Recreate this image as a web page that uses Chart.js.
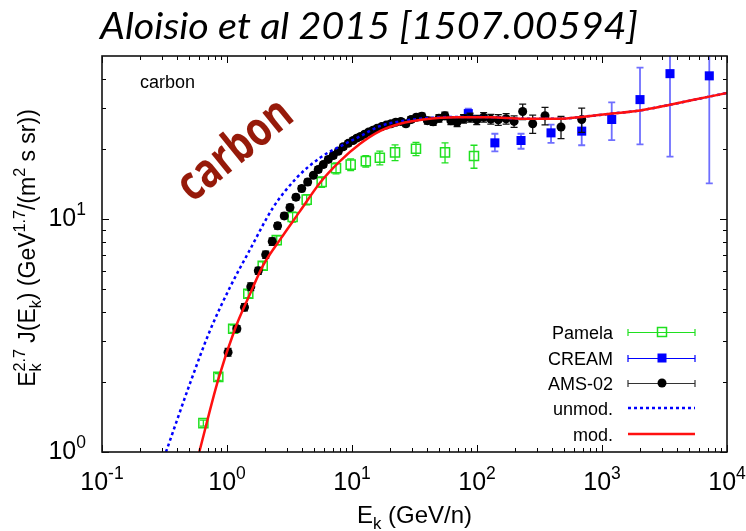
<!DOCTYPE html>
<html>
<head>
<meta charset="utf-8">
<script src="https://cdn.jsdelivr.net/npm/chart.js@4.4.1/dist/chart.umd.min.js"></script>
<style>
  body { margin: 0; background: #fff; }
  canvas { display: block; }
</style>
</head>
<body>
<canvas id="chart" width="746" height="531"></canvas>
<script>
// values (E in GeV/n, J scaled by E^2.7)
var pamelaE   = [0.647, 0.852, 1.12, 1.48, 1.93, 2.50, 3.35, 4.34, 5.72, 7.45, 9.76, 12.9, 16.7, 22.1, 32.5, 55.5, 94.6];
var pamelaJ   = [1.33, 2.10, 3.38, 4.77, 6.30, 8.11, 10.2, 12.1, 14.4, 16.5, 17.1, 17.7, 18.3, 19.3, 20.0, 19.3, 18.6];
var pamelaErr = [0.04, 0.07, 0.12, 0.18, 0.25, 0.35, 0.5, 0.6, 0.75, 0.9, 1.0, 1.0, 1.25, 1.5, 1.3, 1.9, 2.1];

var creamE  = [85.2, 139, 225, 391, 688, 1196, 2014, 3499, 7217];
var creamJ  = [28.3, 21.2, 21.7, 23.4, 23.8, 26.7, 32.5, 42.0, 41.1];
var creamLo = [26.9, 19.5, 20.0, 21.2, 20.7, 21.8, 20.9, 18.5, 14.2];
var creamHi = [29.7, 23.2, 23.2, 25.4, 27.1, 31.6, 44.6, 62, 75];

var amsE = [1.02, 1.20, 1.38, 1.55, 1.78, 2.04, 2.30, 2.54, 2.87, 3.19, 3.56, 3.96, 4.42, 4.91, 5.37,
            5.89, 6.46, 7.08, 7.77, 8.51, 9.33, 10.2, 10.9, 11.7, 12.6, 13.6, 14.7, 15.9, 17.3, 18.8,
            20.5, 22.4, 24.6, 27.0, 29.7, 32.7, 36.2, 40.1, 44.6, 49.6, 55.3, 61.8, 69.3, 78.0, 88.0,
            99.5, 113, 129, 148, 171, 198, 232, 279, 350, 470, 688];
var amsJ = [2.68, 3.38, 4.18, 5.12, 5.99, 7.02, 8.0, 9.34, 10.3, 11.2, 12.4, 13.5, 14.4, 15.4, 16.3,
            17.1, 18.0, 18.7, 19.5, 20.4, 21.1, 21.7, 22.2, 22.6, 23.1, 23.6, 24.0, 24.5, 24.9, 25.3,
            25.6, 26.0, 26.2, 25.6, 26.7, 27.3, 27.6, 26.4, 26.1, 27.0, 27.7, 26.4, 26.0, 26.9, 27.2,
            26.6, 27.3, 26.8, 26.6, 26.9, 26.2, 28.9, 25.6, 27.7, 24.8, 26.7];
var amsErr = [0.1, 0.1, 0.15, 0.2, 0.2, 0.25, 0.3, 0.3, 0.3, 0.35, 0.35, 0.4, 0.4, 0.4, 0.45,
              0.45, 0.45, 0.5, 0.5, 0.5, 0.5, 0.5, 0.5, 0.5, 0.55, 0.55, 0.55, 0.6, 0.6, 0.6,
              0.7, 0.7, 0.7, 0.7, 0.75, 0.75, 0.8, 0.9, 0.9, 1.0, 1.0, 1.0, 1.1, 1.1, 1.2,
              1.2, 1.3, 1.3, 1.4, 1.4, 1.5, 2.2, 2.3, 2.4, 2.7, 3.2];

var unmodE = [0.325, 0.506, 0.731, 1.057, 1.51, 2.34, 3.61, 5.55, 8.5, 11.6, 16.7, 24.2, 35, 70, 130, 235, 461, 688, 1196, 2014, 3499, 6880, 10000];
var unmodJ = [1.00, 1.97, 3.32, 5.09, 7.30, 11.2, 15.0, 18.3, 20.8, 22.6, 25.0, 26.2, 26.9, 27.4, 27.3, 26.9, 26.9, 27.4, 28.3, 29.2, 30.9, 33.3, 34.7];

var modE = [0.60, 0.852, 1.16, 1.53, 1.94, 2.70, 3.84, 5.55, 8.02, 11.6, 16.7, 24.2, 37.2, 68.8, 127, 235, 461, 688, 1196, 2014, 3499, 6880, 10000];
var modJ = [1.00, 2.05, 3.38, 4.77, 6.30, 8.25, 10.8, 14.3, 17.7, 21.0, 23.8, 25.6, 26.7, 27.3, 27.3, 26.9, 26.9, 27.4, 28.3, 29.2, 30.9, 33.3, 34.7];

var xTicks = [0.1, 1, 10, 100, 1000, 10000];
var xTickExp = ['-1', '0', '1', '2', '3', '4'];
var yTicks = [1, 10];
var yTickExp = ['0', '1'];
var legendLabels = ['Pamela', 'CREAM', 'AMS-02', 'unmod.', 'mod.'];

var GREEN = '#1fe01f';
var BLUE = '#0000ff';
var RED = '#ff1010';
var FONT = '"Liberation Sans", Arial, sans-serif';

function pts(xs, ys) {
    return xs.map(function (x, i) { return { x: x, y: ys[i] }; });
}

// draw text with sub/superscripts; parts like {t:'E'}, {sub:'k'}, {sup:'2.7'}
function richWidth(ctx, parts, size) {
    var w = 0;
    parts.forEach(function (p) {
        if (p.t) { ctx.font = size + 'px ' + FONT; w += ctx.measureText(p.t).width; }
        else {
            ctx.font = (size * 0.7) + 'px ' + FONT;
            var a = p.sub ? ctx.measureText(p.sub).width : 0;
            var b = p.sup ? ctx.measureText(p.sup).width : 0;
            w += Math.max(a, b);
        }
    });
    return w;
}
function drawRich(ctx, parts, x, y, size) {
    parts.forEach(function (p) {
        if (p.t) {
            ctx.font = size + 'px ' + FONT;
            ctx.fillText(p.t, x, y);
            x += ctx.measureText(p.t).width;
        } else {
            ctx.font = (size * 0.7) + 'px ' + FONT;
            var a = 0, b = 0;
            if (p.sub) { ctx.fillText(p.sub, x, y + size * 0.25); a = ctx.measureText(p.sub).width; }
            if (p.sup) { ctx.fillText(p.sup, x, y - size * 0.45); b = ctx.measureText(p.sup).width; }
            x += Math.max(a, b);
        }
    });
}

// error bars under each dataset's markers
var errorBars = {
    id: 'errorBars',
    beforeDatasetDraw: function (chart, args) {
        var ds = chart.data.datasets[args.index];
        if (!ds.errLo) return;
        var ctx = chart.ctx, sx = chart.scales.x, sy = chart.scales.y, a = chart.chartArea;
        ctx.save();
        ctx.beginPath();
        ctx.rect(a.left, a.top, a.right - a.left, a.bottom - a.top);
        ctx.clip();
        ctx.strokeStyle = ds.errColor;
        ctx.lineWidth = ds.errWidth || 1.3;
        ds.data.forEach(function (p, i) {
            var px = sx.getPixelForValue(p.x);
            var y1 = sy.getPixelForValue(ds.errLo[i]);
            var y2 = sy.getPixelForValue(ds.errHi[i]);
            ctx.beginPath();
            ctx.moveTo(px, y1); ctx.lineTo(px, y2);
            ctx.moveTo(px - ds.cap, y1); ctx.lineTo(px + ds.cap, y1);
            ctx.moveTo(px - ds.cap, y2); ctx.lineTo(px + ds.cap, y2);
            ctx.stroke();
        });
        ctx.restore();
    }
};

// frame, gnuplot style inward ticks, labels, legend
var decor = {
    id: 'decor',
    afterDraw: function (chart) {
        var ctx = chart.ctx, sx = chart.scales.x, sy = chart.scales.y, a = chart.chartArea;
        ctx.save();
        ctx.strokeStyle = '#000';
        ctx.fillStyle = '#000';

        // ticks
        ctx.lineWidth = 1;
        ctx.beginPath();
        xTicks.forEach(function (v, k) {
            for (var m = 1; m <= 9; m++) {
                var val = v * m;
                if (val > sx.max * 1.0001 || (m > 1 && k === xTicks.length - 1)) continue;
                var px = Math.round(sx.getPixelForValue(val)) + 0.5;
                var len = m === 1 ? 7 : 4;
                ctx.moveTo(px, a.bottom); ctx.lineTo(px, a.bottom - len);
                ctx.moveTo(px, a.top); ctx.lineTo(px, a.top + len);
            }
        });
        yTicks.forEach(function (v) {
            for (var m = 1; m <= 9; m++) {
                var val = v * m;
                if (val >= sy.max) continue;
                var py = Math.round(sy.getPixelForValue(val)) + 0.5;
                var len = m === 1 ? 7 : 4;
                ctx.moveTo(a.left, py); ctx.lineTo(a.left + len, py);
                ctx.moveTo(a.right, py); ctx.lineTo(a.right - len, py);
            }
        });
        ctx.stroke();

        // frame
        ctx.lineWidth = 1.6;
        ctx.strokeStyle = '#111';
        ctx.strokeRect(a.left, a.top, a.right - a.left, a.bottom - a.top);

        // tick labels
        xTicks.forEach(function (v, k) {
            var parts = [{ t: '10' }, { sup: xTickExp[k] }];
            var w = richWidth(ctx, parts, 25);
            drawRich(ctx, parts, sx.getPixelForValue(v) - w / 2, a.bottom + 38, 25);
        });
        yTicks.forEach(function (v, k) {
            var parts = [{ t: '10' }, { sup: yTickExp[k] }];
            var w = richWidth(ctx, parts, 25);
            drawRich(ctx, parts, 86 - w, sy.getPixelForValue(v) + 7, 25);
        });

        // axis titles
        var xt = [{ t: 'E' }, { sub: 'k' }, { t: ' (GeV/n)' }];
        var wx = richWidth(ctx, xt, 24);
        drawRich(ctx, xt, (a.left + a.right) / 2 - wx / 2, 523, 24);

        var yt = [{ t: 'E' }, { sub: 'k', sup: '2.7' }, { t: ' J(E' }, { sub: 'k' }, { t: ') (GeV' },
                  { sup: '1.7' }, { t: '/(m' }, { sup: '2' }, { t: ' s sr))' }];
        var wy = richWidth(ctx, yt, 23);
        ctx.save();
        ctx.translate(35, 248);
        ctx.rotate(-Math.PI / 2);
        drawRich(ctx, yt, -wy / 2, 0, 23);
        ctx.restore();

        // title
        ctx.save();
        ctx.font = 'italic 37px Lato, "Open Sans", sans-serif';
        var tw = ctx.measureText('Aloisio et al 2015 [1507.00594]').width;
        ctx.translate(100, 39);
        ctx.scale(538 / tw, 1);
        ctx.fillText('Aloisio et al 2015 [1507.00594]', 0, 0);
        ctx.restore();

        // small label
        ctx.font = '18px ' + FONT;
        ctx.fillText('carbon', 140, 88);

        // big rotated label
        ctx.save();
        ctx.fillStyle = '#961a0a';
        ctx.translate(236, 151);
        ctx.rotate(-39 * Math.PI / 180);
        ctx.scale(0.8, 1);
        ctx.font = 'bold 48px "Open Sans", sans-serif';
        ctx.textAlign = 'center';
        ctx.fillText('carbon', 0, 13);
        ctx.restore();

        // legend
        var rows = [332, 358, 383, 408, 434];
        var x0 = 628, x1 = 695, xm = 662;
        ctx.font = '18px ' + FONT;
        ctx.textAlign = 'right';
        ctx.fillStyle = '#000';
        legendLabels.forEach(function (lab, i) {
            ctx.fillText(lab, 613, rows[i] + 6.5);
        });
        var errCols = [GREEN, BLUE, '#333'];
        for (var i = 0; i < 3; i++) {
            var ry = rows[i] + 0.5;
            ctx.strokeStyle = errCols[i];
            ctx.lineWidth = 1.2;
            ctx.beginPath();
            ctx.moveTo(x0, ry); ctx.lineTo(x1, ry);
            ctx.moveTo(x0, ry - 3.5); ctx.lineTo(x0, ry + 3.5);
            ctx.moveTo(x1, ry - 3.5); ctx.lineTo(x1, ry + 3.5);
            ctx.stroke();
        }
        ctx.strokeStyle = GREEN;
        ctx.lineWidth = 1.5;
        ctx.strokeRect(xm - 4.5, rows[0] - 4.5, 9, 9);
        ctx.fillStyle = BLUE;
        ctx.fillRect(xm - 4.5, rows[1] - 4.5, 9, 9);
        ctx.fillStyle = '#000';
        ctx.beginPath();
        ctx.arc(xm, rows[2], 4.5, 0, Math.PI * 2);
        ctx.fill();
        ctx.lineWidth = 2.5;
        ctx.strokeStyle = BLUE;
        ctx.setLineDash([3, 3]);
        ctx.beginPath(); ctx.moveTo(x0, rows[3]); ctx.lineTo(x1, rows[3]); ctx.stroke();
        ctx.setLineDash([]);
        ctx.strokeStyle = RED;
        ctx.beginPath(); ctx.moveTo(x0, rows[4]); ctx.lineTo(x1, rows[4]); ctx.stroke();

        ctx.restore();
    }
};

var ctx = document.getElementById('chart').getContext('2d');
var chart = new Chart(ctx, {
    type: 'scatter',
    data: {
        datasets: [
            {
                label: 'mod.', data: pts(modE, modJ), showLine: true, order: 0,
                borderColor: RED, borderWidth: 2.5, pointRadius: 0,
                cubicInterpolationMode: 'monotone'
            },
            {
                label: 'unmod.', data: pts(unmodE, unmodJ), showLine: true, order: 1,
                borderColor: BLUE, borderWidth: 2.5, borderDash: [3, 3], pointRadius: 0,
                cubicInterpolationMode: 'monotone'
            },
            {
                label: 'AMS-02', data: pts(amsE, amsJ), order: 2,
                pointStyle: 'circle', pointRadius: 4.5, backgroundColor: '#000', borderWidth: 0,
                errLo: amsJ.map(function (v, i) { return v - amsErr[i]; }),
                errHi: amsJ.map(function (v, i) { return v + amsErr[i]; }),
                errColor: '#111', cap: 3.5
            },
            {
                label: 'CREAM', data: pts(creamE, creamJ), order: 3,
                pointStyle: 'rect', pointRadius: 6.4, backgroundColor: BLUE, borderWidth: 0,
                errLo: creamLo, errHi: creamHi, errColor: '#6f6fff', errWidth: 1.8, cap: 3.5
            },
            {
                label: 'Pamela', data: pts(pamelaE, pamelaJ), order: 4,
                pointStyle: 'rect', pointRadius: 6.4, backgroundColor: 'rgba(0,0,0,0)',
                borderColor: GREEN, borderWidth: 1.5,
                errLo: pamelaJ.map(function (v, i) { return v - pamelaErr[i]; }),
                errHi: pamelaJ.map(function (v, i) { return v + pamelaErr[i]; }),
                errColor: GREEN, cap: 3.5
            }
        ]
    },
    options: {
        responsive: false,
        animation: false,
        layout: { padding: { left: 102, right: 19, top: 56, bottom: 79 } },
        plugins: { legend: { display: false }, tooltip: { enabled: false } },
        scales: {
            x: { type: 'logarithmic', min: 0.1, max: 10000, display: false },
            y: { type: 'logarithmic', min: 1, max: 50, display: false }
        }
    },
    plugins: [errorBars, decor]
});

if (document.fonts && document.fonts.load) {
    Promise.all([
        document.fonts.load('italic 37px Lato'),
        document.fonts.load('bold 48px "Open Sans"'),
        document.fonts.load('18px "Liberation Sans"')
    ]).then(function () { chart.draw(); });
}
</script>
</body>
</html>
